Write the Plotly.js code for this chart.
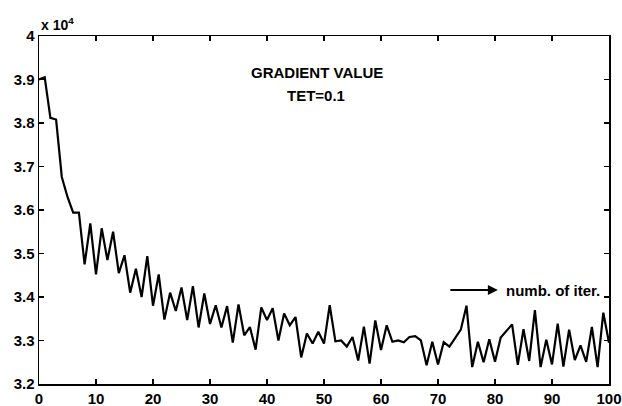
<!DOCTYPE html>
<html>
<head>
<meta charset="utf-8">
<script src="https://cdn.plot.ly/plotly-3.0.1.min.js"></script>
<style>
  html, body { margin: 0; padding: 0; background: #fff; }
  #chart { width: 622px; height: 406px; }
</style>
</head>
<body>
<div id="chart"></div>
<script>
// Gradient value per iteration, in units of 10^4
const iterations = Array.from({length: 101}, (_, i) => i);
const gradientValue = [
  3.900, 3.905, 3.812, 3.808, 3.676, 3.630, 3.594, 3.594, 3.475, 3.569,
  3.452, 3.558, 3.485, 3.550, 3.455, 3.496, 3.410, 3.465, 3.400, 3.494,
  3.380, 3.452, 3.348, 3.410, 3.368, 3.422, 3.347, 3.425, 3.330, 3.408,
  3.338, 3.381, 3.330, 3.379, 3.295, 3.383, 3.312, 3.331, 3.279, 3.376,
  3.347, 3.374, 3.300, 3.362, 3.335, 3.354, 3.261, 3.316, 3.293, 3.320,
  3.293, 3.381, 3.298, 3.300, 3.286, 3.308, 3.254, 3.332, 3.247, 3.346,
  3.278, 3.335, 3.297, 3.300, 3.296, 3.308, 3.310, 3.300, 3.243, 3.297,
  3.245, 3.296, 3.286, 3.306, 3.325, 3.380, 3.239, 3.297, 3.250, 3.303,
  3.251, 3.307, 3.322, 3.337, 3.244, 3.326, 3.253, 3.370, 3.239, 3.302,
  3.245, 3.339, 3.240, 3.325, 3.255, 3.289, 3.251, 3.331, 3.239, 3.364,
  3.295
];

const xTicks = [0, 10, 20, 30, 40, 50, 60, 70, 80, 90, 100];
const yTicks = [3.2, 3.3, 3.4, 3.5, 3.6, 3.7, 3.8, 3.9, 4];
const yTickText = ['3.2', '3.3', '3.4', '3.5', '3.6', '3.7', '3.8', '3.9', '4'];

const family = 'Arial, "Liberation Sans", sans-serif';
const tickFont = {family: family, size: 15, color: '#000', weight: 'bold'};
const textFont = {family: family, size: 15, color: '#000', weight: 'bold'};

const axisCommon = {
  showgrid: false,
  zeroline: false,
  showline: true,
  linecolor: '#000',
  linewidth: 1.5,
  mirror: 'allticks',
  ticks: 'inside',
  ticklen: 5,
  tickwidth: 1.5,
  tickcolor: '#000',
  tickfont: tickFont
};

const trace = {
  x: iterations,
  y: gradientValue,
  type: 'scatter',
  mode: 'lines',
  line: {color: '#000', width: 2.2},
  hoverinfo: 'skip'
};

const layout = {
  width: 622,
  height: 406,
  margin: {l: 39, r: 13, t: 36, b: 22},
  paper_bgcolor: '#fff',
  plot_bgcolor: '#fff',
  showlegend: false,
  font: {family: family, color: '#000'},
  xaxis: Object.assign({}, axisCommon, {
    range: [0, 100],
    tickvals: xTicks,
    ticktext: xTicks.map(String)
  }),
  yaxis: Object.assign({}, axisCommon, {
    range: [3.2, 4],
    tickvals: yTicks,
    ticktext: yTickText
  }),
  annotations: [
    {text: 'x 10<sup>4</sup>', xref: 'paper', yref: 'paper', x: 0, y: 1,
     xanchor: 'left', yanchor: 'bottom', yshift: 1, showarrow: false,
     font: {family: family, size: 14, color: '#000', weight: 'bold'}},
    {text: 'GRADIENT VALUE', xref: 'x', yref: 'y', x: 48.8, y: 3.915,
     showarrow: false, font: textFont},
    {text: 'TET=0.1', xref: 'x', yref: 'y', x: 48.6, y: 3.864,
     showarrow: false, font: textFont},
    {text: '', xref: 'x', yref: 'y', x: 80.5, y: 3.416, ax: -49, ay: 0,
     showarrow: true, arrowhead: 2, arrowsize: 1, arrowwidth: 2, arrowcolor: '#000'},
    {text: 'numb. of iter.', xref: 'x', yref: 'y', x: 81.6, y: 3.416,
     xanchor: 'left', showarrow: false, font: textFont}
  ]
};

Plotly.newPlot('chart', [trace], layout, {displayModeBar: false, staticPlot: true});
</script>
</body>
</html>
